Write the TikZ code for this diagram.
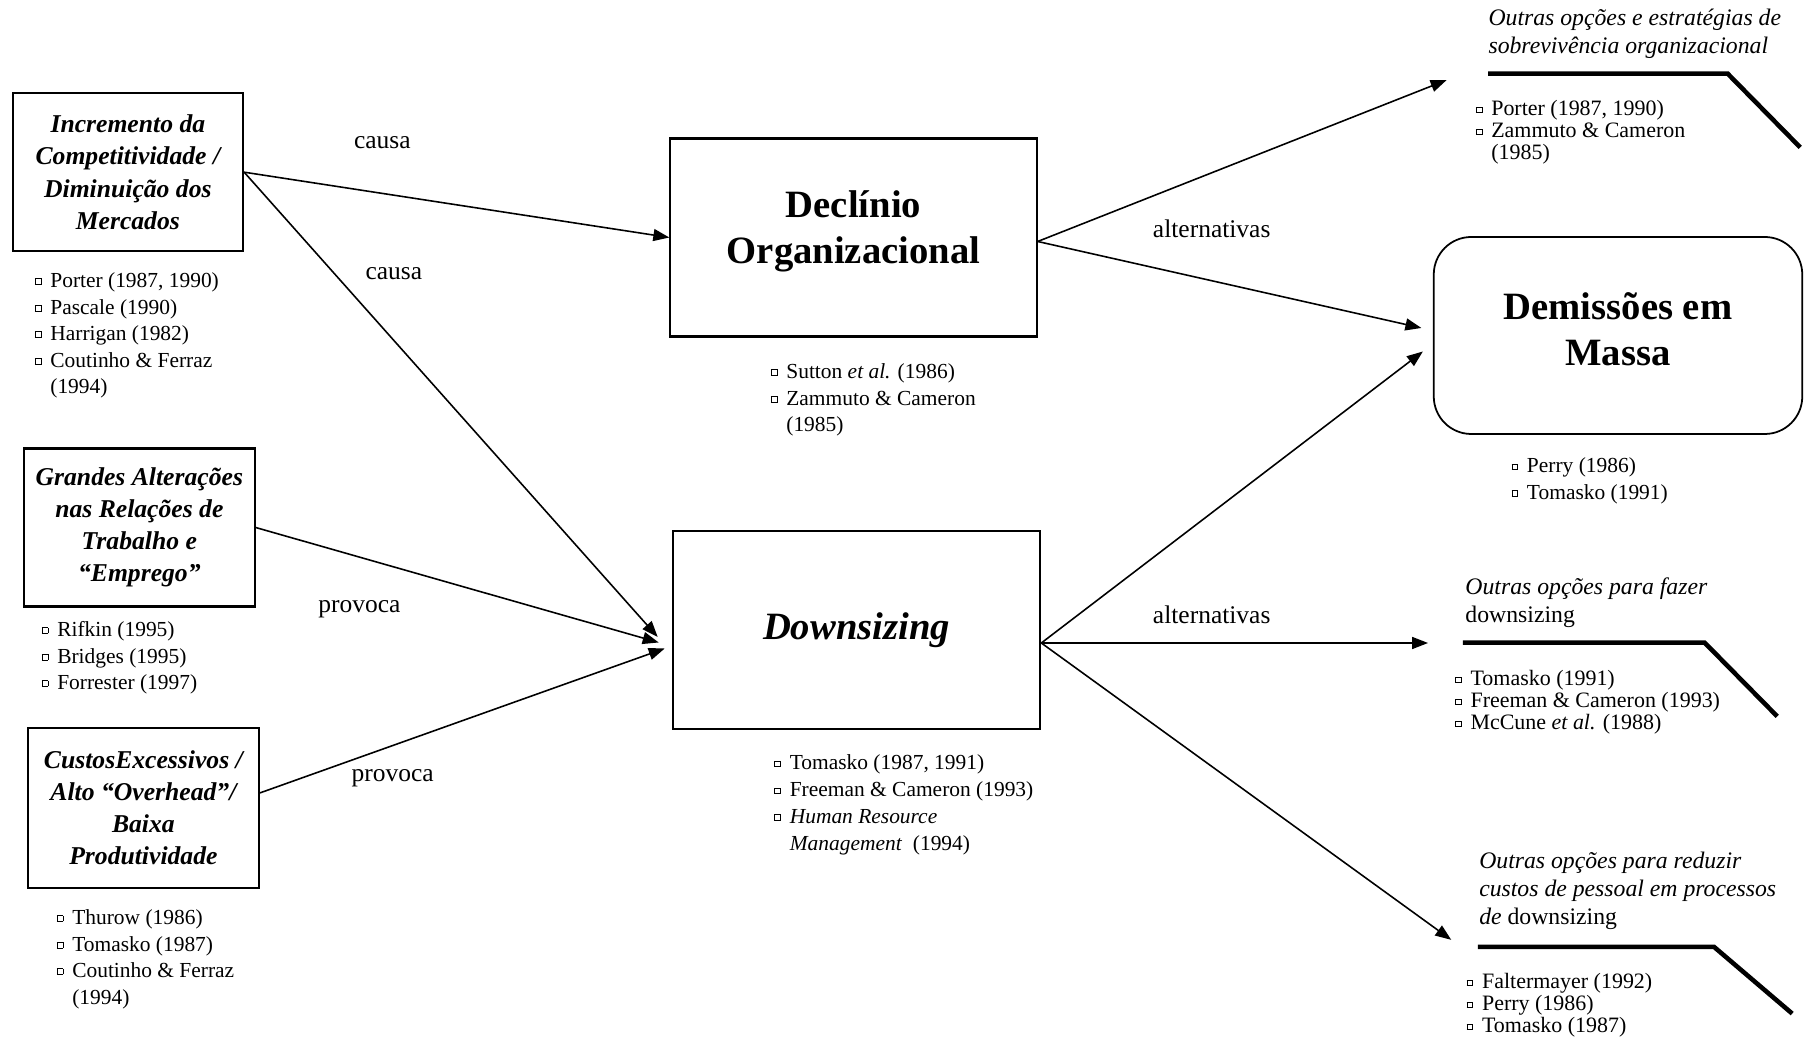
\documentclass[tikz,border=0pt]{standalone}
\usepackage{fontspec}
\setmainfont{Liberation Serif}
\usepackage{tikz}
\usetikzlibrary{arrows.meta,positioning,calc}
\newcommand{\bx}{\raisebox{2pt}{\setlength{\fboxsep}{0pt}\setlength{\fboxrule}{0.5pt}\fbox{\rule{0pt}{2.8pt}\rule{2.8pt}{0pt}}}}
\tikzset{
  causebox/.style={draw,line width=1.2pt,inner sep=0pt,align=center,
    minimum width=4.61cm,minimum height=3.16cm,
    font=\fontsize{14.6}{18.3}\selectfont\bfseries\itshape},
  mainbox/.style={draw,line width=1.2pt,inner sep=0pt,align=center,
    minimum width=7.35cm,minimum height=3.96cm,
    font=\fontsize{22}{26.2}\selectfont\bfseries},
  reflist/.style={anchor=base west,inner sep=0pt,font=\fontsize{12.2}{15.1}\selectfont},
  sidelist/.style={anchor=base west,inner sep=0pt,font=\fontsize{12.5}{12.5}\selectfont},
  sidetitle/.style={anchor=base west,inner sep=0pt,font=\fontsize{13.5}{15.8}\selectfont},
  lbl/.style={anchor=base,inner sep=0pt,font=\fontsize{14.5}{17}\selectfont},
  arr/.style={-{Triangle[length=3.2mm,width=2.4mm]},line width=0.9pt},
  bracket/.style={line width=2.6pt}
}

\begin{document}
\begin{tikzpicture}
\useasboundingbox (0,0) rectangle (36.12,20.76);
\node[causebox] (inc) at (2.557,17.316) {Incremento da\\Competitividade /\\Diminuição dos\\Mercados};
\node[causebox] (rel) at (2.787,10.21) {Grandes Alterações\\nas Relações de\\Trabalho e\\“Emprego”};
\node[causebox,minimum height=3.2cm] (cst) at (2.868,4.60) {CustosExcessivos /\\Alto “Overhead”/\\Baixa\\Produtividade};
\node[mainbox,minimum width=7.325cm] (dec) at (17.07,16.01) {Declínio\\Organizacional\rule[-0.4cm]{0pt}{0pt}};
\node[mainbox] (dsz) at (17.13,8.16) {\textit{Downsizing}};
\node[mainbox,rounded corners=0.75cm,line width=1pt,minimum width=7.37cm,minimum height=3.94cm] (dem) at (32.36,14.05) {Demissões em\\Massa\rule[-0.24cm]{0pt}{0pt}};

\node[reflist] (incref) at (0.691,15.01) {\begin{tabular}[t]{@{}l@{\hspace{5pt}}l@{}}
\bx & Porter (1987, 1990)\\ \bx & Pascale (1990)\\ \bx & Harrigan (1982)\\
\bx & Coutinho \& Ferraz\\ & (1994)\end{tabular}};
\node[reflist] (relref) at (0.829,8.03) {\begin{tabular}[t]{@{}l@{\hspace{5pt}}l@{}}
\bx & Rifkin (1995)\\ \bx & Bridges (1995)\\ \bx & Forrester (1997)\end{tabular}};
\node[reflist] (cstref) at (1.129,2.27) {\begin{tabular}[t]{@{}l@{\hspace{5pt}}l@{}}
\bx & Thurow (1986)\\ \bx & Tomasko (1987)\\ \bx & Coutinho \& Ferraz\\ & (1994)\end{tabular}};
\node[reflist] (decref) at (15.411,13.19) {\begin{tabular}[t]{@{}l@{\hspace{5pt}}l@{}}
\bx & Sutton \textit{et al.} (1986)\\ \bx & Zammuto \& Cameron\\ & (1985)\end{tabular}};
\node[reflist,font=\fontsize{12.2}{15.3}\selectfont] (dszref) at (15.48,5.36) {\begin{tabular}[t]{@{}l@{\hspace{5pt}}l@{}}
\bx & Tomasko (1987, 1991)\\ \bx & Freeman \& Cameron (1993)\\ \bx & \textit{Human Resource}\\
 & \textit{Management}\ \ (1994)\end{tabular}};
\node[reflist] (demref) at (30.223,11.30) {\begin{tabular}[t]{@{}l@{\hspace{5pt}}l@{}}
\bx & Perry (1986)\\ \bx & Tomasko (1991)\end{tabular}};

\node[sidetitle] (opt1) at (29.763,20.25) {\begin{tabular}[t]{@{}l@{}}
\textit{Outras opções e estratégias de}\\ \textit{sobrevivência organizacional}\end{tabular}};
\node[sidelist] (opt1ref) at (29.509,18.44) {\begin{tabular}[t]{@{}l@{\hspace{5pt}}l@{}}
\bx & Porter (1987, 1990)\\ \bx & Zammuto \& Cameron\\ & (1985)\end{tabular}};
\node[sidetitle] (opt2) at (29.302,8.86) {\begin{tabular}[t]{@{}l@{}}
\textit{Outras opções para fazer}\\ downsizing\end{tabular}};
\node[sidelist] (opt2ref) at (29.094,7.04) {\begin{tabular}[t]{@{}l@{\hspace{5pt}}l@{}}
\bx & Tomasko (1991)\\ \bx & Freeman \& Cameron (1993)\\ \bx & McCune \textit{et al.} (1988)\end{tabular}};
\node[sidetitle] (opt3) at (29.578,3.38) {\begin{tabular}[t]{@{}l@{}}
\textit{Outras opções para reduzir}\\ \textit{custos de pessoal em processos}\\ \textit{de} downsizing\end{tabular}};
\node[sidelist] (opt3ref) at (29.325,0.98) {\begin{tabular}[t]{@{}l@{\hspace{5pt}}l@{}}
\bx & Faltermayer (1992)\\ \bx & Perry (1986)\\ \bx & Tomasko (1987)\end{tabular}};

\draw[bracket] (29.763,19.286) -- (34.554,19.286) -- (36.005,17.811);
\draw[bracket] (29.256,7.906) -- (34.093,7.906) -- (35.545,6.432);
\draw[bracket] (29.555,1.824) -- (34.278,1.824) -- (35.844,0.488);

\coordinate (dszin1) at ([xshift=-0.28cm,yshift=-0.14cm]dsz.west);
\coordinate (dszin2) at ([xshift=-0.26cm,yshift=-0.25cm]dsz.west);
\coordinate (dszin3) at ([xshift=-0.14cm,yshift=-0.37cm]dsz.west);
\coordinate (cstout) at ([yshift=0.3cm]cst.east);
\coordinate (decout) at ([yshift=-0.08cm]dec.east);
\coordinate (dszout) at ([yshift=-0.26cm]dsz.east);
\coordinate (demin1) at ([xshift=-0.23cm,yshift=0.15cm]dem.west);
\coordinate (demin2) at ([xshift=-0.2cm,yshift=-0.32cm]dem.west);
\coordinate (opt1in) at (28.933,19.159);
\coordinate (opt2in) at ([xshift=7.735cm]dszout);
\coordinate (opt3in) at (29.025,1.963);

\draw[arr] (inc.east) -- (dec.west);
\draw[arr] (inc.east) -- (dszin1);
\draw[arr] (rel.east) -- (dszin2);
\draw[arr] (cstout) -- (dszin3);
\draw[arr] (decout) -- (opt1in);
\draw[arr] (decout) -- (demin1);
\draw[arr] (dszout) -- (demin2);
\draw[arr] (dszout) -- (opt2in);
\draw[arr] (dszout) -- (opt3in);

\node[lbl] (causa1) at (7.648,17.78) {causa};
\node[lbl] (causa2) at (7.878,15.16) {causa};
\node[lbl] (prov1) at (7.187,8.50) {provoca};
\node[lbl] (prov2) at (7.855,5.12) {provoca};
\node[lbl] (alt1) at (24.234,16.01) {alternativas};
\node[lbl] (alt2) at (24.234,8.29) {alternativas};
\end{tikzpicture}
\end{document}
